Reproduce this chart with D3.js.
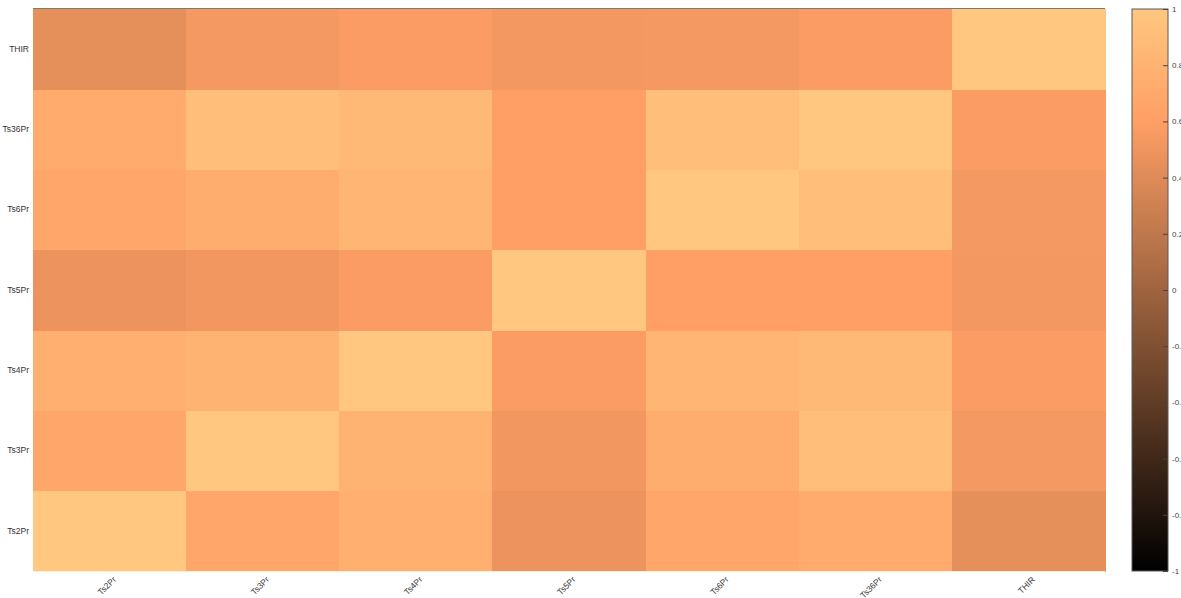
<!DOCTYPE html>
<html>
<head>
<meta charset="utf-8">
<script src="https://cdn.jsdelivr.net/npm/d3@7"></script>
<style>
  html, body { margin: 0; padding: 0; background: #fff; }
  svg { display: block; font-family: "Liberation Sans", Arial, Helvetica, sans-serif; }
</style>
</head>
<body>
<svg id="chart" width="1181" height="598"></svg>
<script>
// Variable names, in display order (rows bottom-to-top, columns left-to-right)
const variables = ["Ts2Pr", "Ts3Pr", "Ts4Pr", "Ts5Pr", "Ts6Pr", "Ts36Pr", "THIR"];

// Correlation coefficients, one row per variable
const rowTs2Pr  = [1.00, 0.68, 0.77, 0.48, 0.68, 0.72, 0.44];
const rowTs3Pr  = [0.68, 1.00, 0.80, 0.52, 0.74, 0.91, 0.54];
const rowTs4Pr  = [0.77, 0.80, 1.00, 0.57, 0.83, 0.86, 0.57];
const rowTs5Pr  = [0.48, 0.52, 0.57, 1.00, 0.60, 0.60, 0.53];
const rowTs6Pr  = [0.68, 0.74, 0.83, 0.60, 1.00, 0.92, 0.54];
const rowTs36Pr = [0.72, 0.91, 0.86, 0.60, 0.92, 1.00, 0.57];
const rowTHIR   = [0.44, 0.54, 0.57, 0.53, 0.54, 0.57, 1.00];
const matrix = [rowTs2Pr, rowTs3Pr, rowTs4Pr, rowTs5Pr, rowTs6Pr, rowTs36Pr, rowTHIR];

// Colour bar tick values
const colorbarTicks = [1, 0.8, 0.6, 0.4, 0.2, 0, -0.2, -0.4, -0.6, -0.8, -1];
const colorDomain = [-1, 1];

// Copper colour map
function copper(t) {
  t = Math.max(0, Math.min(1, t));
  const r = Math.min(1, 1.25 * t), g = 0.7812 * t, b = 0.4975 * t;
  return d3.rgb(r * 255, g * 255, b * 255).formatHex();
}
const norm = d3.scaleLinear().domain(colorDomain).range([0, 1]).clamp(true);
const color = v => copper(norm(v));

const svg = d3.select("#chart");
const plot = { left: 33, top: 9, right: 1105, bottom: 571 };
const labelFont = "Liberation Sans, Arial, sans-serif";

const x = d3.scaleBand().domain(variables).range([plot.left, plot.right]).padding(0);
const y = d3.scaleBand().domain(variables).range([plot.bottom, plot.top]).padding(0);

// Flatten matrix into cells
const cells = [];
matrix.forEach((row, i) => row.forEach((v, j) => cells.push({ r: variables[i], c: variables[j], v })));

svg.append("g")
  .selectAll("rect")
  .data(cells)
  .join("rect")
  .attr("x", d => x(d.c))
  .attr("y", d => y(d.r))
  .attr("width", x.bandwidth() + 0.5)
  .attr("height", y.bandwidth() + 0.5)
  .attr("fill", d => color(d.v))
  .attr("shape-rendering", "crispEdges");

// Top border and light bottom edge
svg.append("line")
  .attr("x1", plot.left).attr("x2", plot.right)
  .attr("y1", plot.top - 0.5).attr("y2", plot.top - 0.5)
  .attr("stroke", "#7a7a7a").attr("stroke-width", 1);
svg.append("line")
  .attr("x1", plot.left).attr("x2", plot.right)
  .attr("y1", plot.bottom + 0.5).attr("y2", plot.bottom + 0.5)
  .attr("stroke", "#fff0dc").attr("stroke-width", 1);

// Y axis labels
const yAxis = d3.axisLeft(y).tickSize(0).tickPadding(4);
const gy = svg.append("g").attr("transform", `translate(${plot.left},0)`).call(yAxis);
gy.select(".domain").remove();
gy.selectAll("text").attr("font-size", 8.5).attr("fill", "#333").attr("font-family", labelFont);

// X axis labels, rotated 45 degrees and ending at the column centre
const xAxis = d3.axisBottom(x).tickSize(0).tickPadding(0);
const gx = svg.append("g").attr("transform", `translate(0,${plot.bottom})`).call(xAxis);
gx.select(".domain").remove();
gx.selectAll("text")
  .attr("font-size", 8.5).attr("fill", "#333").attr("font-family", labelFont)
  .attr("text-anchor", "end")
  .attr("y", 0)
  .attr("dy", "0.35em")
  .attr("transform", "translate(5,7) rotate(-45)");

// Colour bar
const cb = { left: 1132, right: 1168, top: 9, bottom: 571 };
const cbScale = d3.scaleLinear().domain(colorDomain).range([cb.bottom, cb.top]);

const defs = svg.append("defs");
const grad = defs.append("linearGradient")
  .attr("id", "copperGrad")
  .attr("x1", 0).attr("y1", 1).attr("x2", 0).attr("y2", 0);
d3.range(0, 1.0001, 0.05).forEach(t => {
  grad.append("stop").attr("offset", t).attr("stop-color", copper(t));
});

svg.append("rect")
  .attr("x", cb.left).attr("y", cb.top)
  .attr("width", cb.right - cb.left).attr("height", cb.bottom - cb.top)
  .attr("fill", "url(#copperGrad)")
  .attr("stroke", "#5a5a5a").attr("stroke-width", 1);

const cbAxis = d3.axisRight(cbScale)
  .tickValues(colorbarTicks)
  .tickSize(0)
  .tickPadding(4)
  .tickFormat(d => String(d));
const gcb = svg.append("g").attr("transform", `translate(${cb.right},0)`).call(cbAxis);
gcb.select(".domain").remove();
gcb.selectAll("text").attr("font-size", 8).attr("fill", "#444").attr("font-family", labelFont);
gcb.selectAll(".tick")
  .append("line")
  .attr("x1", -5).attr("x2", 0)
  .attr("stroke", "#444");
</script>
</body>
</html>
